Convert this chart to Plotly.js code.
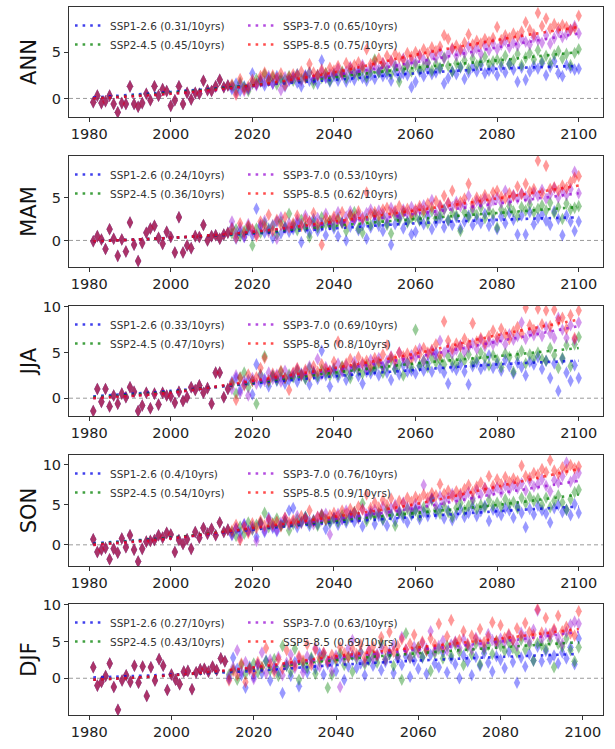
<!DOCTYPE html>
<html><head><meta charset="utf-8">
<script src="https://cdn.plot.ly/plotly-3.0.1.min.js"></script>
<style>html,body{margin:0;padding:0;background:#fff;}#chart{width:615px;height:749px;}</style>
</head><body><div id="chart"></div>
<script>
// ---------------- DATA ----------------
const seasons = ['ANN', 'MAM', 'JJA', 'SON', 'DJF'];
const scenarios = ['SSP1-2.6', 'SSP2-4.5', 'SSP3-7.0', 'SSP5-8.5'];
const histStartYear = [1981, 1981, 1981, 1981, 1981];
const futureStartYear = [2015, 2015, 2015, 2015, 2014];
const trendYears = [[1981,2000,2020,2040,2060,2080,2100],[1981,2000,2020,2040,2060,2080,2100],[1981,2000,2020,2040,2060,2080,2100],[1981,2000,2020,2040,2060,2080,2100],[1981,2000,2020,2040,2060,2080,2099]];
const slopes_ANN = [0.31, 0.45, 0.65, 0.75];
const slopes_MAM = [0.24, 0.36, 0.53, 0.62];
const slopes_JJA = [0.33, 0.47, 0.69, 0.8];
const slopes_SON = [0.4, 0.54, 0.76, 0.9];
const slopes_DJF = [0.27, 0.43, 0.63, 0.69];

// ANN
const ANN_hist = [-0.4,0.3,-0.5,-0.3,0.3,-0.6,-1.5,-0.5,-0.6,1.3,-0.6,-0.9,-0.5,0.5,-0.2,1.3,0.3,1.0,0.8,-0.8,-0.2,1.3,-0.6,0.6,-0.1,0.6,0.5,1.9,0.9,0.8,1.3,2.0,1.2,1.4];
const ANN_ssp126 = [1.0,1.6,0.8,1.3,1.1,
 2.7,1.5,1.9,1.4,2.2,1.6,2.4,1.9,1.3,2.0,
 2.3,1.7,1.3,2.5,1.9,2.0,1.6,4.1,2.2,1.8,
 2.4,1.9,2.6,1.8,2.3,2.0,2.8,2.2,1.9,2.5,
 2.1,2.8,2.4,2.6,1.9,2.9,2.3,2.7,2.5,1.2,
 1.8,2.9,2.4,3.1,2.6,2.8,3.2,1.6,2.2,2.9,
 2.6,3.3,2.1,2.8,3.4,2.9,3.6,2.7,3.0,3.2,
 2.5,3.4,2.8,3.7,3.1,1.8,3.3,2.0,2.9,3.5,
 3.2,3.8,2.5,3.4,4.0,2.7,2.4,3.6,3.3,3.1,3.2];
const ANN_ssp245 = [1.4,0.9,1.7,1.2,0.8,
 1.6,2.1,1.8,2.6,1.9,2.3,1.5,2.2,2.0,2.4,
 1.9,2.6,2.1,2.3,2.8,1.6,2.5,2.2,2.7,1.9,
 2.6,2.4,2.9,2.2,3.0,2.7,2.5,3.1,2.3,2.9,
 4.2,2.8,3.3,3.0,2.6,3.4,1.8,3.2,3.5,2.9,
 3.6,3.1,3.4,3.9,3.0,3.7,3.3,4.4,3.5,2.9,
 3.8,3.4,4.1,3.2,4.3,3.6,3.9,4.5,3.7,4.0,
 4.2,3.9,4.6,3.7,4.1,4.8,3.6,4.4,4.9,4.2,
 5.2,4.0,4.6,3.8,4.7,5.1,4.3,4.8,3.6,4.9,5.3];
const ANN_ssp370 = [1.2,0.6,1.5,0.8,1.0,
 1.7,1.4,2.1,1.8,2.4,1.6,2.0,0.9,2.3,1.9,
 2.2,2.6,1.9,2.4,2.8,2.1,2.5,2.9,2.3,2.6,
 2.7,3.2,2.5,2.9,3.4,2.8,3.1,3.6,2.9,3.3,
 3.5,3.1,3.8,3.4,4.0,3.6,3.3,4.3,3.7,4.1,
 3.9,4.6,4.2,3.8,4.7,4.4,5.0,4.3,4.8,5.3,
 4.6,5.1,4.9,5.6,5.0,5.4,4.8,5.7,5.2,5.9,
 5.3,5.8,6.2,5.5,6.0,5.7,6.4,6.1,5.8,6.6,
 6.3,6.0,6.8,5.9,6.5,7.2,6.6,6.9,7.4,7.8,7.0];
const ANN_ssp585 = [1.5,0.4,2.1,1.0,1.3,
 2.0,1.6,2.4,2.8,1.9,2.5,2.2,2.7,1.4,2.3,
 2.6,2.4,2.9,2.2,3.7,2.8,2.5,3.1,2.7,3.3,
 3.0,3.5,2.8,3.8,3.3,3.6,3.9,3.4,5.3,3.7,
 4.0,4.3,3.8,4.6,4.1,4.8,4.4,4.2,4.9,4.5,
 5.0,4.7,5.3,4.9,5.5,5.1,5.6,6.8,6.4,5.4,
 5.7,5.3,6.0,6.9,5.8,6.2,5.9,6.4,6.1,6.5,
 7.7,6.3,6.8,6.5,7.0,6.7,7.2,8.2,7.4,6.9,
 9.2,7.8,8.6,7.5,8.0,7.6,7.9,7.7,7.4,7.6,8.9];
const ANN_trend126 = [0.1,0.7,1.4,2.0,2.7,3.2,3.5];
const ANN_trend245 = [0.0,0.6,1.4,2.3,3.3,4.1,5.0];
const ANN_trend370 = [0.0,0.5,1.3,2.5,3.9,5.5,7.0];
const ANN_trend585 = [0.0,0.5,1.4,2.8,4.7,6.3,7.7];

// MAM
const MAM_hist = [-0.1,0.5,0.1,-1.0,1.3,0.2,-1.8,0.1,-1.3,2.1,-0.5,-2.4,-0.3,0.9,1.4,1.7,0.3,-0.4,1.0,0.4,-1.4,2.7,-1.4,-0.6,-0.9,0.5,0.4,1.8,0.0,0.5,0.6,0.2,0.7,0.9];
const MAM_ssp126 = [1.5,0.2,1.0,0.4,1.2,
 0.6,3.7,1.8,0.9,1.4,0.3,2.2,0.8,1.6,1.0,
 1.3,2.0,-0.2,1.5,0.9,2.5,1.1,1.7,0.6,1.9,
 1.4,0.5,2.1,0.0,1.6,2.4,1.2,1.8,0.2,1.5,
 2.3,1.7,1.1,2.0,-0.5,1.9,2.6,1.4,2.2,0.7,
 1.0,2.4,1.9,2.8,1.3,2.1,2.6,1.5,2.3,1.8,
 2.7,1.4,2.2,2.9,1.8,2.5,2.0,3.1,1.7,2.4,
 1.3,2.8,2.0,3.2,2.4,0.7,2.9,0.7,3.3,1.9,
 2.6,3.0,2.3,1.8,3.4,2.5,0.6,2.9,2.2,1.1,2.2];
const MAM_ssp245 = [0.8,1.3,0.5,1.1,1.6,
 -0.6,1.4,0.9,2.0,1.2,1.7,0.7,2.2,1.5,3.1,
 1.8,1.2,2.4,1.6,0.4,2.1,1.5,2.7,1.9,2.3,
 1.7,2.6,2.0,1.1,2.9,3.3,1.4,0.9,2.5,1.8,
 3.0,2.2,2.7,1.8,0.8,2.9,2.4,3.2,2.1,2.6,
 2.8,2.3,3.1,2.0,3.4,2.6,3.0,3.6,2.4,3.2,
 2.9,1.1,3.3,2.7,3.5,3.0,3.8,2.6,3.4,3.1,
 1.5,3.6,3.2,4.0,3.4,2.8,3.9,3.5,4.2,3.3,
 3.7,4.1,3.5,4.4,3.2,3.9,2.5,4.3,3.6,3.8,4.0];
const MAM_ssp370 = [2.2,0.8,1.5,0.4,1.9,
 1.2,0.7,1.6,2.3,1.0,1.8,0.2,2.7,1.4,2.0,
 1.6,2.4,1.9,2.9,2.2,1.7,2.6,2.0,3.1,1.8,
 2.5,3.3,2.1,2.8,3.4,2.4,3.0,2.7,3.2,3.6,
 2.9,3.5,3.1,2.6,3.8,3.3,2.8,3.6,3.2,3.9,
 3.4,3.7,4.1,3.5,4.7,3.2,4.0,3.6,4.3,3.9,
 4.5,4.0,4.2,5.2,3.8,4.6,4.3,4.9,4.1,4.7,
 5.0,4.4,5.8,4.6,5.3,4.9,5.5,5.1,4.8,5.6,
 5.2,5.9,4.9,5.4,6.1,5.0,5.7,5.3,6.0,8.0,5.5];
const MAM_ssp585 = [1.4,0.3,2.0,0.9,1.7,
 1.3,0.5,2.2,1.6,3.0,1.1,2.4,1.8,2.7,1.5,
 2.0,2.9,1.7,2.5,2.2,3.2,1.9,-0.5,2.6,2.3,
 2.8,2.4,3.3,2.1,3.0,2.7,3.4,2.5,5.6,3.1,
 3.3,2.9,3.6,3.8,3.2,3.5,4.0,3.4,3.7,3.1,
 3.6,4.0,3.5,4.3,3.9,4.6,4.1,5.2,4.4,5.8,
 4.2,4.5,4.9,6.6,4.3,5.0,4.7,5.3,4.8,5.6,
 5.8,5.1,4.9,5.5,5.2,6.3,5.4,6.6,5.7,6.0,
 9.3,5.5,8.7,6.0,6.2,5.8,6.4,6.1,6.8,7.3,7.5];
const MAM_trend126 = [-0.1,0.3,0.8,1.4,2.0,2.4,2.7];
const MAM_trend245 = [-0.1,0.3,0.9,1.7,2.5,3.2,3.9];
const MAM_trend370 = [-0.1,0.3,1.0,2.0,3.1,4.3,5.5];
const MAM_trend585 = [-0.1,0.3,1.0,2.2,3.5,4.9,6.4];

// JJA
const JJA_hist = [-1.4,1.0,-0.4,1.0,-0.9,0.3,-0.6,0.5,0.1,1.2,0.7,-1.4,-0.8,0.6,-1.1,0.5,-0.7,0.6,0.3,0.2,-0.5,0.7,-0.3,0.1,1.2,0.9,1.4,0.6,1.1,-0.6,2.8,2.8,0.1,1.0];
const JJA_ssp126 = [1.8,2.2,0.9,1.5,2.0,
 0.4,3.7,1.7,2.1,1.3,2.5,1.9,2.3,1.6,2.0,
 2.4,1.8,2.7,2.2,1.5,2.9,2.1,5.2,2.5,1.3,
 2.8,2.3,3.0,2.0,2.6,3.3,2.4,1.6,2.9,2.7,
 3.1,2.5,3.4,2.8,2.0,3.2,2.6,3.6,2.9,3.0,
 2.7,3.5,3.0,3.8,2.9,5.0,3.3,2.8,1.6,3.4,
 3.1,3.7,2.9,1.5,3.5,3.9,3.2,3.6,4.7,3.3,
 3.8,3.0,4.2,3.5,2.7,3.9,3.4,2.5,4.0,3.7,
 4.5,3.2,4.1,2.2,3.8,0.8,4.3,2.8,1.9,3.6,2.2];
const JJA_ssp245 = [1.5,0.5,2.3,2.8,1.2,
 1.9,-0.6,2.6,4.6,1.8,2.4,2.0,2.9,2.2,2.6,
 2.3,3.0,2.5,2.1,3.3,2.7,2.4,3.1,2.8,2.5,
 3.2,2.6,3.5,2.9,2.2,3.4,3.0,2.7,3.6,3.1,
 3.3,3.8,2.8,3.5,4.2,3.2,3.7,2.5,3.9,3.4,
 7.5,3.6,4.1,3.4,4.4,3.9,4.2,3.7,4.6,4.0,
 3.8,4.5,4.1,4.8,3.9,4.3,5.0,4.4,3.6,4.7,
 4.2,3.4,4.9,4.5,2.9,4.6,5.2,3.8,4.8,4.4,
 5.0,4.3,4.1,5.5,4.7,3.3,4.4,5.8,3.5,5.9,6.7];
const JJA_ssp370 = [1.0,2.5,0.6,1.9,0.3,
 2.2,1.6,2.5,1.9,2.8,2.1,2.6,1.8,3.0,2.4,
 2.7,3.2,2.5,2.9,3.5,2.8,4.3,2.6,3.4,3.0,
 3.3,3.8,2.9,3.6,3.1,4.0,3.4,3.7,3.2,4.2,
 3.9,4.4,3.5,4.1,4.6,3.8,5.0,4.3,3.9,4.7,
 4.5,5.4,4.1,4.8,5.2,4.6,6.3,5.0,5.5,4.9,
 5.3,5.8,5.1,5.6,6.0,5.4,6.4,5.7,6.2,5.9,
 6.3,6.6,5.9,7.0,6.4,6.8,8.3,6.5,7.2,6.9,
 7.4,6.8,7.8,7.1,6.6,8.8,7.5,6.6,8.0,6.4,8.3];
const JJA_ssp585 = [1.7,-0.2,2.2,1.4,2.6,
 1.9,2.3,3.3,4.4,2.0,2.7,2.4,3.0,2.2,0.9,
 2.8,3.3,2.6,3.1,2.4,3.5,2.9,3.7,3.2,3.0,
 4.0,6.2,3.4,3.8,4.3,3.6,4.5,3.9,4.1,3.5,
 4.4,4.0,4.8,5.8,4.5,4.2,5.0,4.6,4.9,4.3,
 5.2,4.8,5.5,5.0,5.3,5.9,4.7,8.4,6.3,5.4,
 6.0,5.7,6.5,5.9,8.2,6.2,6.6,6.0,6.8,7.4,
 6.7,7.6,7.0,6.5,7.3,7.8,7.1,9.9,8.0,7.5,
 9.8,8.1,9.6,7.9,9.7,8.5,8.8,7.6,9.1,6.6,9.6];
const JJA_trend126 = [0.2,0.8,1.6,2.4,3.1,3.7,4.1];
const JJA_trend245 = [0.1,0.7,1.7,2.8,3.8,4.6,5.5];
const JJA_trend370 = [0.0,0.6,1.8,3.1,4.5,6.2,7.9];
const JJA_trend585 = [0.0,0.6,1.9,3.3,4.9,6.9,8.6];

// SON
const SON_hist = [0.7,-0.9,-0.6,-0.4,-1.8,-0.5,-1.0,0.8,-0.3,1.2,-0.6,-2.1,-0.5,0.4,0.5,0.6,1.2,0.9,1.5,1.3,-0.9,0.6,0.1,0.7,-0.5,1.6,0.9,2.1,1.4,2.0,1.2,2.8,1.6,1.9];
const SON_ssp126 = [1.2,2.0,1.5,2.6,1.8,
 2.3,1.0,2.7,1.6,3.4,2.1,1.7,2.5,3.0,4.3,
 4.6,2.2,2.9,3.5,2.4,3.1,2.6,3.8,2.0,2.7,
 3.4,2.5,3.2,2.8,3.7,2.9,3.5,2.3,3.3,3.9,
 2.6,3.6,3.1,2.4,3.8,3.0,4.0,3.4,2.8,3.7,
 4.4,3.2,4.1,3.6,5.8,3.9,4.6,3.3,4.3,3.1,
 3.8,4.5,3.5,4.0,4.7,3.6,4.2,4.9,3.0,4.4,
 4.1,3.7,4.6,4.3,3.4,4.8,4.0,2.2,4.5,3.8,
 4.9,4.3,3.9,2.8,4.6,5.0,4.1,4.4,3.7,5.1,4.0];
const SON_ssp245 = [1.6,1.1,2.3,1.4,2.8,
 1.9,2.5,2.8,4.0,2.2,2.7,3.3,2.4,2.9,1.8,
 2.6,3.2,2.8,3.5,2.7,3.0,2.4,3.6,3.1,2.9,
 3.3,2.9,3.7,3.1,3.5,4.1,3.4,5.2,3.0,3.8,
 3.6,4.0,3.2,4.4,3.7,2.4,4.1,3.8,4.5,3.9,
 4.3,3.6,4.7,4.2,5.6,4.4,3.9,4.8,4.1,3.5,
 4.6,5.2,4.3,4.9,5.5,4.5,5.0,4.7,5.6,4.9,
 5.3,4.8,5.7,5.1,5.4,4.6,5.9,5.2,6.0,5.5,
 5.8,5.0,5.9,4.7,5.5,6.2,5.3,4.4,5.7,6.6,6.9];
const SON_ssp370 = [1.3,2.1,0.9,2.5,1.7,
 2.0,0.5,2.6,1.8,3.0,2.3,1.9,2.8,3.4,2.5,
 2.9,3.6,2.7,3.3,3.0,2.6,3.5,3.1,3.9,1.3,
 3.4,3.9,3.2,4.3,3.6,4.0,3.3,4.5,3.8,4.2,
 4.4,3.9,4.8,4.1,4.6,5.0,4.3,5.3,4.7,4.5,
 5.1,4.6,7.5,5.3,5.8,4.9,6.1,5.5,5.9,6.4,
 5.7,6.2,6.0,6.6,5.8,6.9,6.3,7.1,6.5,6.8,
 7.2,6.6,7.4,6.9,7.5,7.1,7.7,6.8,8.0,7.3,
 7.6,8.2,7.4,6.7,8.1,7.8,8.6,10.3,7.9,8.4,9.0];
const SON_ssp585 = [1.8,2.5,0.6,2.2,1.5,
 2.7,2.1,3.0,2.4,3.2,2.6,2.9,2.3,3.4,2.8,
 3.1,2.7,3.6,3.3,4.3,3.0,3.5,3.8,3.2,3.7,
 4.0,3.6,4.3,3.9,4.5,4.1,4.8,4.4,6.3,4.6,
 5.3,4.7,5.6,5.0,5.8,4.8,5.5,5.2,5.9,5.4,
 6.0,5.7,6.3,5.9,6.5,6.2,7.6,6.4,6.8,6.1,
 6.7,6.4,7.0,7.5,6.6,7.3,7.8,7.1,8.6,7.4,
 8.2,7.6,8.5,7.9,8.3,8.0,9.9,8.6,8.4,9.0,
 8.8,9.5,9.1,10.6,9.3,8.9,9.7,9.4,10.0,9.6,9.8];
const SON_trend126 = [0.2,0.9,1.9,2.8,3.5,4.2,4.8];
const SON_trend245 = [0.1,0.9,2.0,3.0,4.0,5.0,6.3];
const SON_trend370 = [0.0,0.8,2.0,3.2,4.6,6.4,8.0];
const SON_trend585 = [0.0,0.8,2.1,3.5,5.1,7.3,9.5];

// DJF
const DJF_hist = [1.5,-1.0,-0.5,0.3,2.0,-1.2,-4.3,-0.3,0.4,-0.5,1.7,-0.6,1.6,-2.4,1.5,-0.3,2.6,1.7,-1.6,0.5,-0.2,-0.8,0.9,1.0,-1.5,0.8,1.2,1.3,0.9,1.6,1.1,2.7,2.3];
const DJF_ssp126 = [-0.1,2.8,1.3,0.4,-1.3,1.6,
 0.2,1.9,0.7,2.4,-0.3,1.2,0.9,-2.0,1.7,0.3,
 2.2,-1.1,1.5,0.8,2.6,1.3,3.4,0.5,1.9,2.3,
 1.0,2.7,-0.2,1.6,3.1,1.4,2.0,0.4,2.5,1.7,
 2.9,1.1,2.2,3.3,0.7,2.6,1.8,3.0,0.2,2.4,
 1.3,2.8,0.6,3.2,2.0,1.5,3.5,0.8,2.7,1.9,
 0.0,3.1,2.3,0.4,2.9,1.7,3.4,2.1,0.9,3.0,
 2.5,1.4,3.6,2.2,-0.6,2.8,1.6,3.3,2.4,4.3,
 2.3,3.7,2.6,3.1,2.0,3.5,2.7,4.2,1.9,5.4];
const DJF_ssp245 = [0.5,1.2,-0.2,1.8,0.6,1.4,
 2.0,0.8,1.5,2.3,1.1,2.6,0.3,4.4,1.7,0.9,
 4.0,-0.2,2.1,1.4,2.8,0.6,2.3,3.1,-1.3,0.4,
 2.4,3.4,1.8,2.9,0.9,2.7,3.6,1.9,2.5,3.2,
 2.1,4.8,2.6,3.3,1.7,3.0,-0.2,6.1,2.8,3.5,
 4.2,2.9,3.7,1.0,3.4,4.0,2.7,4.4,3.1,4.6,
 3.6,1.8,4.3,3.2,4.7,1.9,3.9,4.5,3.3,5.0,
 4.4,3.7,4.9,4.1,3.5,5.2,3.9,4.6,2.4,4.8,
 4.5,4.0,5.1,1.5,4.7,4.3,5.4,3.8,2.3,4.2];
const DJF_ssp370 = [0.2,1.5,3.8,0.9,2.2,1.1,
 -0.1,1.8,3.5,0.7,2.5,1.6,2.9,0.4,2.1,3.2,
 1.4,2.7,0.8,3.0,2.2,4.1,1.6,3.4,2.4,1.0,
 3.1,-1.2,2.6,4.0,5.2,2.9,3.5,2.2,3.8,2.7,
 3.3,4.2,2.5,3.6,4.5,3.0,5.6,3.9,2.8,4.3,
 3.5,4.8,4.0,6.4,3.7,4.4,5.1,3.8,4.6,5.0,
 4.1,5.3,4.5,3.9,5.5,4.8,4.2,6.0,5.2,4.6,
 5.4,4.9,5.8,5.1,4.4,6.2,5.6,5.0,6.6,9.2,
 5.3,6.1,5.7,6.5,5.5,4.7,6.3,7.3,7.7,7.4];
const DJF_ssp585 = [-0.3,1.0,0.4,2.0,-0.5,1.3,
 0.8,2.2,1.5,4.1,1.9,0.9,2.6,1.3,3.8,2.1,
 1.7,3.0,2.4,4.6,1.8,3.9,2.8,3.5,2.2,3.2,
 2.7,4.2,3.4,2.9,4.0,3.3,4.6,2.8,3.7,4.3,
 3.1,5.6,4.0,6.3,3.6,4.4,5.3,3.9,4.7,5.9,
 4.2,5.0,3.8,5.4,4.6,7.4,4.1,5.7,7.9,4.9,
 5.2,6.4,4.7,5.8,5.3,6.7,4.9,5.6,7.6,5.1,
 7.2,5.5,6.0,5.2,6.8,5.8,7.5,6.3,5.9,9.4,
 6.2,8.2,6.0,6.7,8.5,6.4,7.0,6.1,5.8,9.1];
const DJF_trend126 = [0.1,0.5,1.0,1.8,2.4,2.9,3.3];
const DJF_trend245 = [-0.2,0.4,1.3,2.5,3.4,4.2,4.9];
const DJF_trend370 = [-0.2,0.4,1.4,2.8,3.9,5.0,6.3];
const DJF_trend585 = [-0.2,0.4,1.5,3.0,4.2,5.4,6.7];

// ---------------- STYLE ----------------
const markerColors = ['rgba(0,0,255,0.4)','rgba(0,128,0,0.4)','rgba(148,0,211,0.4)','rgba(255,0,0,0.4)'];
const lineColors = ['rgba(0,0,230,0.75)','rgba(0,128,0,0.75)','rgba(148,0,211,0.7)','rgba(255,0,0,0.7)'];
const legendColumn = [0, 0, 1, 1];   // SSP1-2.6, SSP2-4.5 left; SSP3-7.0, SSP5-8.5 right
const legendColX = [70, 243];
const yRanges = [[-2.0, 9.85], [-3.1, 9.85], [-1.95, 10.1], [-2.65, 11.25], [-5.0, 10.1]];
const xRanges = [[1975.05, 2105.95], [1975.05, 2105.95], [1975.05, 2105.95], [1975.05, 2105.95], [1975.1, 2104.9]];
const yTicks = [[0, 5], [0, 5], [0, 5, 10], [0, 5, 10], [0, 5, 10]];
const panelPx = [[7, 117], [156, 267], [306, 416], [455, 566], [604, 715]];
const titleStandoff = [9, 9, 0, 0, 0];
const H = 749, L = 69, PW = 534;

const hist = [ANN_hist, MAM_hist, JJA_hist, SON_hist, DJF_hist];
const fut = [
  [ANN_ssp126, ANN_ssp245, ANN_ssp370, ANN_ssp585],
  [MAM_ssp126, MAM_ssp245, MAM_ssp370, MAM_ssp585],
  [JJA_ssp126, JJA_ssp245, JJA_ssp370, JJA_ssp585],
  [SON_ssp126, SON_ssp245, SON_ssp370, SON_ssp585],
  [DJF_ssp126, DJF_ssp245, DJF_ssp370, DJF_ssp585]];
const trends = [
  [ANN_trend126, ANN_trend245, ANN_trend370, ANN_trend585],
  [MAM_trend126, MAM_trend245, MAM_trend370, MAM_trend585],
  [JJA_trend126, JJA_trend245, JJA_trend370, JJA_trend585],
  [SON_trend126, SON_trend245, SON_trend370, SON_trend585],
  [DJF_trend126, DJF_trend245, DJF_trend370, DJF_trend585]];
const slopes = [slopes_ANN, slopes_MAM, slopes_JJA, slopes_SON, slopes_DJF];

const traces = [];
const layout = {
  width: 615, height: 749,
  margin: {l: L, r: 12, t: 0, b: 0},
  paper_bgcolor: '#fff', plot_bgcolor: '#fff',
  font: {family: 'DejaVu Sans, sans-serif', color: '#222'},
  showlegend: true,
  shapes: []
};

seasons.forEach((s, k) => {
  const n = k + 1;
  const xa = n === 1 ? 'x' : 'x' + n;
  const ya = n === 1 ? 'y' : 'y' + n;
  const legIds = [2 * k + 1, 2 * k + 2].map(m => m === 1 ? 'legend' : 'legend' + m);
  const h = hist[k];
  const years = [];
  for (let i = 0; i < h.length; i++) years.push(histStartYear[k] + i);
  const fYears = [];
  for (let i = 0; i < fut[k][0].length; i++) fYears.push(futureStartYear[k] + i);
  scenarios.forEach((sc, j) => {
    traces.push({
      type: 'scatter', mode: 'markers', xaxis: xa, yaxis: ya,
      x: years.concat(fYears), y: h.concat(fut[k][j]),
      marker: {symbol: 'diamond-tall', size: 9, color: markerColors[j], line: {width: 0}},
      showlegend: false, hoverinfo: 'x+y', name: sc
    });
  });
  scenarios.forEach((sc, j) => {
    traces.push({
      type: 'scatter', mode: 'lines', xaxis: xa, yaxis: ya,
      x: trendYears[k], y: trends[k][j],
      line: {color: lineColors[j], width: 2.6, dash: '2.6px,5px', shape: 'spline'},
      name: sc + ' (' + slopes[k][j] + '/10yrs)',
      legend: legIds[legendColumn[j]], showlegend: true
    });
  });
  const top = panelPx[k][0], bot = panelPx[k][1];
  const axBase = {showline: true, linecolor: '#333', linewidth: 1, mirror: true,
    ticks: 'outside', ticklen: 4, tickwidth: 1, tickcolor: '#333',
    showgrid: false, zeroline: false, tickfont: {size: 14.5, color: '#222'}};
  layout['xaxis' + (n === 1 ? '' : n)] = Object.assign({}, axBase, {
    anchor: ya, domain: [0, 1], range: xRanges[k], tickvals: [1980, 2000, 2020, 2040, 2060, 2080, 2100]
  });
  layout['yaxis' + (n === 1 ? '' : n)] = Object.assign({}, axBase, {
    anchor: xa, domain: [1 - bot / H, 1 - top / H], range: yRanges[k], tickvals: yTicks[k],
    title: {text: s, font: {size: 21, color: '#111'}, standoff: titleStandoff[k]}
  });
  legIds.forEach((id, c) => {
    layout[id] = {
      x: (legendColX[c] - L) / PW, xanchor: 'left', y: 1 - (top + 4) / H, yanchor: 'top',
      orientation: 'v', bgcolor: 'rgba(0,0,0,0)', borderwidth: 0,
      font: {size: 10.5, color: '#333'}, itemwidth: 30, tracegroupgap: 0
    };
  });
  layout.shapes.push({type: 'line', xref: xa + ' domain', x0: 0, x1: 1, yref: ya, y0: 0, y1: 0,
    line: {color: '#9a9a9a', width: 1, dash: '4px,3px'}, layer: 'below'});
});

Plotly.newPlot('chart', traces, layout, {displayModeBar: false, staticPlot: true});
</script>
</body></html>
